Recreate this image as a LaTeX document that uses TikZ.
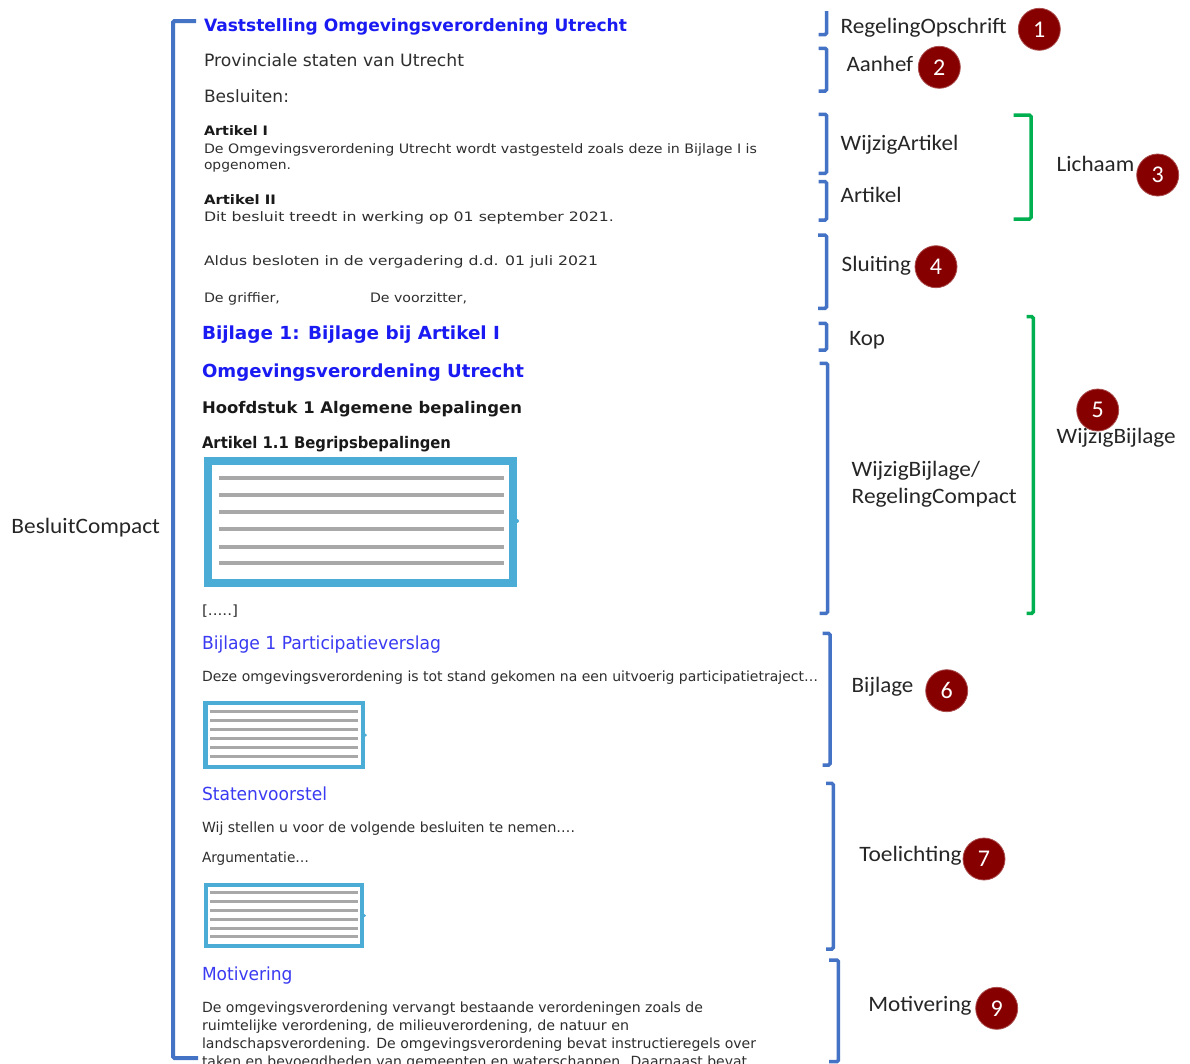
\documentclass[tikz,border=0pt]{standalone}
\usepackage{fontspec}
\usepackage{graphicx}
\setmainfont{DejaVu Sans}
\newfontfamily\calfont{Carlito}
\definecolor{bbl}{HTML}{4472C4}
\definecolor{bgr}{HTML}{00B050}
\definecolor{tblue}{HTML}{1A1AF2}
\definecolor{lblue}{HTML}{3A3AF2}
\definecolor{boxb}{HTML}{4BACD6}
\definecolor{circ}{HTML}{860000}
\definecolor{txt}{HTML}{2E2E2E}
\definecolor{gline}{HTML}{A8A8A8}
\newcommand\fw[2]{\resizebox{#1pt}{\height}{#2}}
\tikzset{
  doc/.style={anchor=base west, inner sep=0pt, outer sep=0pt, text=txt},
  big/.style={font=\fontsize{17}{20}\selectfont},
  sml/.style={font=\fontsize{13}{16}\selectfont},
  hdb/.style={font=\bfseries\fontsize{18}{21}\selectfont, text=tblue},
  hdk/.style={font=\bfseries\fontsize{16}{19}\selectfont, text=black!90},
  tah/.style={font=\fontsize{14}{17}\selectfont},
  tahb/.style={font=\fontsize{18}{21}\selectfont, text=lblue},
  lab/.style={anchor=base west, inner sep=0pt, outer sep=0pt, text=black!85, font=\calfont\fontsize{22}{26}\selectfont},
  num/.style={circle, fill=circ, draw=circ!70!white, line width=0.8pt, minimum size=42pt, inner sep=0pt, text=white, font=\calfont\fontsize{24}{28}\selectfont},
  bbr/.style={draw=bbl, line width=3.5pt, rounded corners=1.5pt},
  gbr/.style={draw=bgr, line width=3.5pt, rounded corners=1.5pt},
  gl/.style={draw=gline, line width=4pt},
}
\begin{document}
\begin{tikzpicture}[x=1pt, y=-1pt]
\useasboundingbox (0,0) rectangle (1190,1063);
\clip (0,0) rectangle (1190,1063);
\fill[white] (0,0) rectangle (1190,1063);

% ---------- left bracket ----------
\draw[bbr, line width=4pt] (196,21) -- (173,21) -- (173,1058) -- (198,1058);
\node[lab] (besluit) at (11.5,533.3) {\fw{148.5}{BesluitCompact}};

% ---------- document text ----------
\node[doc, font=\bfseries\fontsize{17}{20}\selectfont, text=tblue] (t1) at (204,31) {\fw{423}{Vaststelling Omgevingsverordening Utrecht}};
\node[doc, big] (t2) at (204,66.5) {\fw{260}{Provinciale staten van Utrecht}};
\node[doc, big] (t3) at (204,102.5) {\fw{85}{Besluiten:}};
\node[doc, font=\bfseries\fontsize{13}{16}\selectfont, text=black!90] (t4) at (204,135) {\fw{64}{Artikel I}};
\node[doc, sml] (t5) at (204,153) {\fw{553}{De Omgevingsverordening Utrecht wordt vastgesteld zoals deze in Bijlage I is}};
\node[doc, sml] (t6) at (204,169.5) {\fw{87}{opgenomen.}};
\node[doc, font=\bfseries\fontsize{13}{16}\selectfont, text=black!90] (t7) at (204,204) {\fw{72}{Artikel II}};
\node[doc, sml] (t8) at (204,221.5) {\fw{410}{Dit besluit treedt in werking op 01 september 2021.}};
\node[doc, sml] (t9) at (204,265) {\fw{394}{Aldus besloten in de vergadering d.d. 01 juli 2021}};
\node[doc, sml] (t10) at (204,302.5) {\fw{76}{De griffier,}};
\node[doc, sml] (t11) at (370,302.5) {\fw{97}{De voorzitter,}};
\node[doc, hdb] (t12) at (202,339) {\fw{298}{Bijlage 1: Bijlage bij Artikel I}};
\node[doc, hdb] (t13) at (202,377.5) {\fw{322}{Omgevingsverordening Utrecht}};
\node[doc, hdk] (t14) at (202,413.3) {\fw{320}{Hoofdstuk 1 Algemene bepalingen}};
\node[doc, hdk] (t15) at (202,448.3) {\fw{249}{Artikel 1.1 Begripsbepalingen}};

% big figure
\draw[draw=boxb, line width=8pt] (207.5,460.7) rectangle (512.5,582.7);
\fill[boxb] (517,521) circle (2pt);
\foreach \yy in {478.3,495,512.3,529.3,546.7,563.3} \draw[gl] (218.7,\yy) -- (503.5,\yy);

\node[doc, tah] (t16) at (202,615.5) {\fw{36}{[.....]}};
\node[doc, tahb] (t17) at (202,649.5) {\fw{239}{Bijlage 1 Participatieverslag}};
\node[doc, tah] (t18) at (202,681) {\fw{616}{Deze omgevingsverordening is tot stand gekomen na een uitvoerig participatietraject…}};

% small figure 1
\draw[draw=boxb, line width=4.3pt] (205.5,703.2) rectangle (362.8,766.8);
\fill[boxb] (365.5,735) circle (1.5pt);
\foreach \yy in {711.7,720.7,729.3,738.3,747.3,756.7} \draw[gl, line width=3pt] (210,\yy) -- (357.7,\yy);

\node[doc, tahb] (t19) at (202,800.7) {\fw{125}{Statenvoorstel}};
\node[doc, tah] (t20) at (202,832.7) {\fw{373}{Wij stellen u voor de volgende besluiten te nemen….}};
\node[doc, tah] (t21) at (202,862.7) {\fw{107}{Argumentatie…}};

% small figure 2
\draw[draw=boxb, line width=4.3pt] (205.7,884.9) rectangle (361.8,946.1);
\fill[boxb] (364.5,915.5) circle (1.5pt);
\foreach \yy in {892.7,901.7,910.3,919,928,936.7} \draw[gl, line width=3pt] (210,\yy) -- (358,\yy);

\node[doc, tahb] (t22) at (202,980.7) {\fw{90.5}{Motivering}};
\node[doc, tah] (t23) at (202,1012.3) {\fw{501}{De omgevingsverordening vervangt bestaande verordeningen zoals de}};
\node[doc, tah] (t24) at (202,1030.5) {\fw{427}{ruimtelijke verordening, de milieuverordening, de natuur en}};
\node[doc, tah] (t25) at (202,1048.6) {\fw{554}{landschapsverordening. De omgevingsverordening bevat instructieregels over}};
\node[doc, tah] (t26) at (202,1066.5) {\fw{545}{taken en bevoegdheden van gemeenten en waterschappen. Daarnaast bevat}};

% ---------- right brackets ----------
\draw[bbr] (826.7,11) -- (826.7,34.5) -- (818.5,34.5);
\draw[bbr] (818.5,48.3) -- (826.7,48.3) -- (826.7,91) -- (818.5,91);
\draw[bbr] (818.5,114.3) -- (826.7,114.3) -- (826.7,173.3) -- (818.5,173.3);
\draw[bbr] (818.5,181.7) -- (826.7,181.7) -- (826.7,220) -- (818.5,220);
\draw[bbr] (818,235) -- (826.5,235) -- (826.5,308.3) -- (818,308.3);
\draw[bbr] (818.5,323.3) -- (826.7,323.3) -- (826.7,350) -- (818.5,350);
\draw[bbr] (819.5,363.3) -- (827.7,363.3) -- (827.7,613.3) -- (819.5,613.3);
\draw[bbr] (822.7,633.3) -- (830,633.3) -- (830,765) -- (822.7,765);
\draw[bbr] (826,783.3) -- (833.3,783.3) -- (833.3,949) -- (826,949);
\draw[bbr] (829,960) -- (838.3,960) -- (838.3,1061.7) -- (829,1061.7);

\draw[gbr] (1013.5,115) -- (1031,115) -- (1031,219) -- (1013.5,219);
\draw[gbr] (1026.5,316.7) -- (1033.3,316.7) -- (1033.3,613.3) -- (1026.5,613.3);

% ---------- labels ----------
\node[lab] (l1) at (840.7,33.3) {\fw{166}{RegelingOpschrift}};
\node[lab] (l2) at (846.7,71.7) {\fw{66.5}{Aanhef}};
\node[lab] (l3) at (840.7,150) {\fw{117.6}{WijzigArtikel}};
\node[lab] (l4) at (840.7,202.7) {\fw{61}{Artikel}};
\node[lab] (l5) at (841.7,271.7) {\fw{69.3}{Sluiting}};
\node[lab] (l6) at (1056.7,171.7) {\fw{77.6}{Lichaam}};
\node[lab] (l7) at (849.3,345.7) {\fw{35.7}{Kop}};
\node[lab] (l8) at (851.7,476.7) {\fw{128.3}{WijzigBijlage/}};
\node[lab] (l9) at (851.7,503.3) {\fw{165}{RegelingCompact}};
\node[lab] (l10) at (1056.7,443.3) {\fw{119}{WijzigBijlage}};
\node[lab] (l11) at (851.7,692.7) {\fw{61.7}{Bijlage}};
\node[lab] (l12) at (859.3,861.7) {\fw{102.3}{Toelichting}};
\node[lab] (l13) at (868.3,1011.7) {\fw{103.3}{Motivering}};

% ---------- numbered circles ----------
\node[num] (n1) at (1039.3,29.3) {1};
\node[num] (n2) at (939.3,67.3) {2};
\node[num] (n3) at (1157.7,175) {3};
\node[num] (n4) at (936,266.7) {4};
\node[num] (n5) at (1097.7,410) {5};
\node[num] (n6) at (946.7,690.7) {6};
\node[num] (n7) at (984,859) {7};
\node[num] (n9) at (996.7,1008.3) {9};
\end{tikzpicture}
\end{document}
